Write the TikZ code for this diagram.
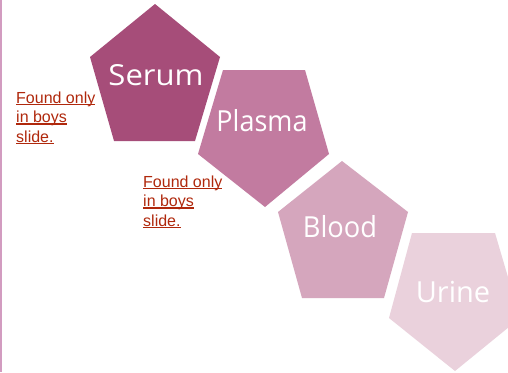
\documentclass[tikz,border=0pt]{standalone}
\usepackage{fontspec}
\usepackage{graphicx}
\setmainfont{Liberation Sans}
\newfontfamily\labelfont{Open Sans}
\definecolor{serumc}{HTML}{A64D79}
\definecolor{plasmac}{HTML}{C27BA0}
\definecolor{bloodc}{HTML}{D5A6BD}
\definecolor{urinec}{HTML}{EAD1DC}
\definecolor{linkred}{HTML}{B0280C}
\definecolor{edgec}{HTML}{D29CC0}
\newcommand\redul[1]{\setbox0\hbox{#1}\rlap{\rule[-2.4pt]{\wd0}{1.5pt}}\box0}
\begin{document}
\begin{tikzpicture}[x=1pt,y=-1pt,
  plabel/.style={text=white,font=\labelfont\fontsize{29}{30}\selectfont,anchor=base,inner sep=0pt},
  note/.style={text=linkred,font=\fontsize{16}{19.5}\selectfont,align=left,anchor=base west,inner sep=0pt}]
\useasboundingbox (0,0) rectangle (508,372);
\fill[white] (0,0) rectangle (508,372);
\draw[edgec,line width=1.6pt] (0.8,0) -- (0.8,372);
\begin{scope}
\clip (0,0) rectangle (508,372);
\fill[serumc] (155,4) -- (220,57) -- (195,141) -- (114,141) -- (90,57) -- cycle;
\fill[plasmac] (223,70) -- (305,70) -- (329,154) -- (265,207) -- (198,154) -- cycle;
\fill[bloodc] (342,161) -- (408,212) -- (384,298) -- (302,298) -- (278,212) -- cycle;
\fill[urinec] (412,233) -- (495,233) -- (520,318) -- (455,371) -- (389,318) -- cycle;
\end{scope}
\node[plabel] (serum) at (156,85) {\scalebox{1.07}[1]{Serum}};
\node[plabel] (plasma) at (262,131) {\scalebox{0.93}[1]{Plasma}};
\node[plabel] (blood) at (340,237) {\scalebox{0.94}[1]{Blood}};
\node[plabel] (urine) at (453,302) {Urine};
\node[note] (note1) at (16,142) {\redul{Found only}\\\redul{in boys}\\\redul{slide.}};
\node[note] (note2) at (143,226) {\redul{Found only}\\\redul{in boys}\\\redul{slide.}};
\end{tikzpicture}
\end{document}
